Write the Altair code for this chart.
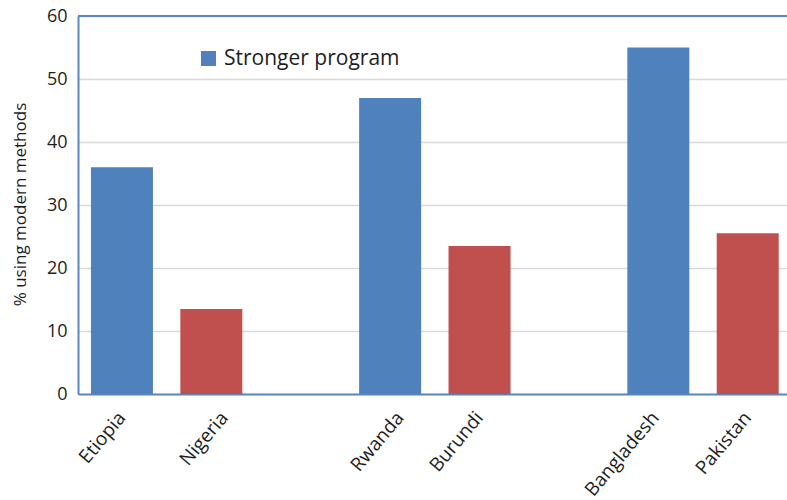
import altair as alt
import pandas as pd

# Contraceptive prevalence (modern methods) for paired countries
countries = ["Etiopia", "Nigeria", "Rwanda", "Burundi", "Bangladesh", "Pakistan"]
values = [36, 13.5, 47, 23.5, 55, 25.5]
programs = ["Stronger program", "Weaker program"] * 3

# band slots, with blank spacers between the country pairs
slots = ["Etiopia", "Nigeria", " ", "Rwanda", "Burundi", "  ", "Bangladesh", "Pakistan"]
y_ticks = [0, 10, 20, 30, 40, 50, 60]

df = pd.DataFrame({"country": countries, "value": values, "program": programs})

FONT = "Open Sans"
BLUE = "#4F81BD"
RED = "#C0504D"
LINE = "#5B87C2"
TEXT = "#1E1E1E"

# small horizontal nudges for a few rotated category labels
label_nudge = {
    "condition": [
        {"test": "datum.value == 'Nigeria'", "value": 13},
        {"test": "datum.value == 'Rwanda'", "value": 10},
        {"test": "datum.value == 'Bangladesh'", "value": -3},
    ],
    "value": 0,
}

x_enc = alt.X(
    "country:N",
    scale=alt.Scale(domain=slots, paddingInner=0.306, paddingOuter=0.1185, align=0.61),
    axis=alt.Axis(
        title=None,
        labelAngle=-50,
        labelAlign="right",
        labelBaseline="middle",
        labelFontSize=19,
        labelFont=FONT,
        labelColor=TEXT,
        labelPadding=20,
        labelOffset=label_nudge,
        ticks=False,
        domainColor=LINE,
        domainWidth=2,
        grid=False,
    ),
)

bars = alt.Chart(df).mark_bar(size=62).encode(
    x=x_enc,
    y=alt.Y(
        "value:Q",
        scale=alt.Scale(domain=[0, 60], nice=False),
        axis=alt.Axis(
            title="% using modern methods",
            titleFont=FONT,
            titleFontSize=17,
            titleFontWeight="normal",
            titleColor=TEXT,
            titleX=-58,
            titleY=188,
            titleAlign="center",
            titleBaseline="middle",
            titleAngle=-90,
            values=y_ticks,
            labelFontSize=18,
            labelFont=FONT,
            labelColor=TEXT,
            labelPadding=11,
            ticks=False,
            domainColor=LINE,
            domainWidth=2,
            gridColor="#D9D9D9",
            gridWidth=1.5,
        ),
    ),
    color=alt.Color(
        "program:N",
        scale=alt.Scale(domain=["Stronger program", "Weaker program"], range=[BLUE, RED]),
        legend=alt.Legend(
            title=None,
            values=["Stronger program"],
            orient="none",
            legendX=120,
            legendY=32,
            symbolType="square",
            symbolSize=225,
            symbolStrokeWidth=0,
            labelFont=FONT,
            labelFontSize=21,
            labelColor=TEXT,
            labelOffset=5,
            labelLimit=400,
            padding=0,
        ),
    ),
)

top_line = alt.Chart(pd.DataFrame({"v": [60]})).mark_rule(color=LINE, strokeWidth=2).encode(
    y=alt.Y("v:Q", scale=alt.Scale(domain=[0, 60], nice=False))
)

chart = (
    alt.layer(bars, top_line)
    .properties(
        width=709,
        height=378,
        autosize=alt.AutoSizeParams(type="none"),
        padding={"left": 78, "top": 16, "right": 0, "bottom": 106},
    )
    .configure_view(stroke=None)
    .configure(background="white")
)

chart.save("out.html", embed_options={"renderer": "svg", "actions": False})
